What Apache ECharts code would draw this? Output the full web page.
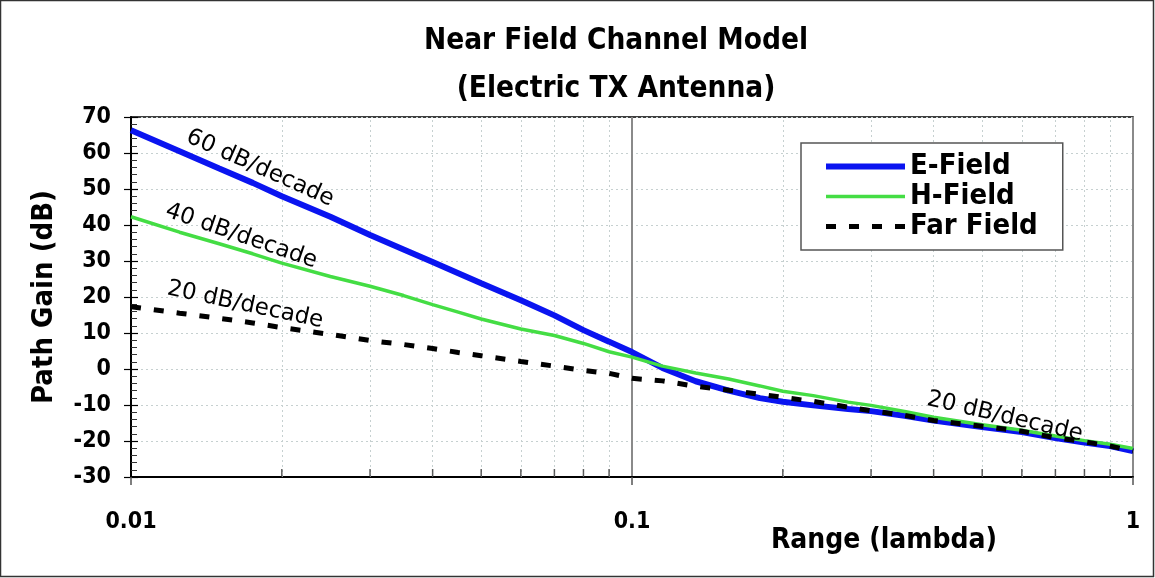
<!DOCTYPE html>
<html>
<head>
<meta charset="utf-8">
<script src="https://cdn.jsdelivr.net/npm/echarts@6/dist/echarts.min.js"></script>
<style>html,body{margin:0;padding:0;background:#fff}#c{width:1155px;height:578px}</style>
</head>
<body>
<div id="c"></div>
<script>
const ranges = [0.01, 0.0125, 0.015, 0.0175, 0.02, 0.025, 0.03, 0.035, 0.04, 0.045, 0.05, 0.06, 0.07, 0.08, 0.09, 0.1, 0.115, 0.134, 0.156, 0.18, 0.2, 0.23, 0.27, 0.3, 0.35, 0.4, 0.5, 0.6, 0.7, 0.8, 0.9, 1.0];
const eField = [66.3, 60.5, 55.7, 51.7, 48.0, 42.3, 37.2, 33.2, 29.7, 26.6, 23.8, 19.1, 14.9, 10.8, 7.6, 4.7, 0.3, -3.4, -6.0, -8.1, -9.1, -10.1, -11.1, -11.7, -13.0, -14.3, -16.1, -17.5, -19.2, -20.4, -21.4, -22.8];
const hField = [42.3, 38.0, 34.8, 32.0, 29.4, 25.7, 23.0, 20.4, 17.9, 15.8, 13.9, 11.1, 9.3, 7.1, 4.8, 3.3, 0.8, -1.1, -2.8, -4.7, -6.2, -7.4, -9.2, -10.1, -11.8, -13.4, -15.5, -17.0, -18.6, -19.9, -20.9, -22.1];
const farField = [17.3, 15.5, 14.1, 12.8, 11.5, 9.6, 7.9, 6.8, 5.7, 4.6, 3.7, 2.1, 0.8, -0.4, -1.2, -2.6, -3.3, -4.8, -5.9, -7.0, -7.9, -9.0, -10.6, -11.6, -12.9, -14.3, -15.9, -17.3, -19.1, -20.2, -21.4, -22.8];
const seriesNames = ['E-Field', 'H-Field', 'Far Field'];
const xTickLabels = ['0.01', '0.1', '1'];
const minorRanges = [0.02, 0.03, 0.04, 0.05, 0.06, 0.07, 0.08, 0.09, 0.2, 0.3, 0.4, 0.5, 0.6, 0.7, 0.8, 0.9];
const annotationTexts = ['60 dB/decade', '40 dB/decade', '20 dB/decade', '20 dB/decade'];
const annotationAt = [[0.0181, 55.8], [0.0166, 36.9], [0.0169, 17.8], [0.555, -13.3]];

const FONT = '"DejaVu Sans Condensed", "DejaVu Sans", sans-serif';
const FONT2 = '"DejaVu Sans", sans-serif';
const pair = a => ranges.map((r, i) => [r, a[i]]);

const chart = echarts.init(document.getElementById('c'), null, {renderer: 'canvas'});
const yCommon = {type: 'value', min: -30, max: 70, interval: 10, position: 'left'};

const annoRotate = [-24, -19, -12, -13];
function anno(i) {
  return {
    coord: annotationAt[i], value: annotationTexts[i],
    symbol: 'circle', symbolSize: 0,
    label: {show: true, formatter: annotationTexts[i], rotate: annoRotate[i],
      fontFamily: FONT2, fontSize: 23, color: '#000', position: 'inside'}
  };
}
const lineStyles = [
  {color: '#0a14f0', width: 6, type: 'solid'},
  {color: '#44dd44', width: 3.5, type: 'solid'},
  {color: '#000', width: 5, type: [10, 13]}
];

chart.setOption({
  animation: false,
  backgroundColor: '#fff',
  title: [{
    text: 'Near Field Channel Model\n(Electric TX Antenna)',
    left: 616, top: 17, padding: 0, textAlign: 'center',
    textStyle: {fontFamily: FONT, fontWeight: 'bold', fontSize: 29.5, lineHeight: 48, color: '#000'}
  }, {
    text: 'Range (lambda)', left: 884, top: 527, padding: 0, textAlign: 'center',
    textStyle: {fontFamily: FONT, fontWeight: 'bold', fontSize: 28, color: '#000'}
  }],
  graphic: [{type: 'rect', shape: {x: 0.5, y: 0.5, width: 1153, height: 576}, style: {fill: 'none', stroke: '#333', lineWidth: 1.5}, silent: true, z: 100}],
  legend: {
    data: seriesNames.map((n, i) => ({name: n, lineStyle: lineStyles[i], itemStyle: {opacity: 0}})),
    orient: 'vertical', left: 801, top: 143,
    padding: [9, 25, 9, 22], itemGap: 1, itemWidth: 79, itemHeight: 14,
    itemStyle: {opacity: 0},
    backgroundColor: '#fff', borderColor: '#555', borderWidth: 1.5,
    textStyle: {fontFamily: FONT, fontWeight: 'bold', fontSize: 29, color: '#000', lineHeight: 29}
  },
  grid: {left: 131, right: 22, top: 117, bottom: 101, show: true, borderColor: '#000', borderWidth: 1.5, backgroundColor: 'transparent'},
  xAxis: {
    type: 'log', logBase: 10, min: 0.01, max: 1,
    axisLine: {onZero: false, lineStyle: {color: '#000', width: 2}},
    axisTick: {show: true, inside: false, length: 8, lineStyle: {color: '#555', width: 1.5}},
    axisLabel: {margin: 34, fontFamily: FONT, fontWeight: 'bold', fontSize: 23, color: '#000',
      formatter: v => { const s = String(+v.toPrecision(3)); return xTickLabels.indexOf(s) >= 0 ? s : ''; }},
    splitLine: {show: true, lineStyle: {color: '#8a8a8a', width: 2}},
    minorTick: {show: false}
  },
  yAxis: [Object.assign({}, yCommon, {
    name: 'Path Gain (dB)', nameLocation: 'middle', nameGap: 72, nameRotate: 90,
    nameTextStyle: {fontFamily: FONT, fontWeight: 'bold', fontSize: 29, color: '#000'},
    axisLine: {show: true, onZero: false, lineStyle: {color: '#000', width: 2}},
    axisTick: {show: true, inside: true, length: 7, lineStyle: {color: '#000', width: 1.2}},
    minorTick: {show: true, splitNumber: 5, length: 6, lineStyle: {color: '#333', width: 1}},
    axisLabel: {margin: 20, fontFamily: FONT, fontWeight: 'bold', fontSize: 23, color: '#000'},
    splitLine: {show: true, lineStyle: {color: '#c6d0d0', width: 1, type: [2, 3]}}
  }), Object.assign({}, yCommon, {
    axisLine: {show: false}, axisLabel: {show: false}, splitLine: {show: false},
    axisTick: {show: true, inside: false, length: 7, lineStyle: {color: '#000', width: 1.2}}
  })],
  series: [{
    name: 'minor', type: 'scatter', silent: true, z: 1,
    data: minorRanges.map(r => [r, -30]),
    symbol: 'rect', symbolSize: [1.5, 8], symbolOffset: [0, -4],
    itemStyle: {color: '#333'},
    markLine: {silent: true, symbol: 'none', label: {show: false}, z: 1,
      lineStyle: {color: '#c6d0d0', width: 1, type: [2, 3]},
      data: minorRanges.map(r => ({xAxis: r}))}
  }, {
    name: seriesNames[0], type: 'line', data: pair(eField), symbol: 'none',
    lineStyle: lineStyles[0], itemStyle: {color: lineStyles[0].color}, z: 3,
    markPoint: {data: [anno(0)]}
  }, {
    name: seriesNames[1], type: 'line', data: pair(hField), symbol: 'none',
    lineStyle: lineStyles[1], itemStyle: {color: lineStyles[1].color}, z: 4,
    markPoint: {data: [anno(1)]}
  }, {
    name: seriesNames[2], type: 'line', data: pair(farField), symbol: 'none',
    lineStyle: lineStyles[2], itemStyle: {color: lineStyles[2].color}, z: 5,
    markPoint: {data: [anno(2), anno(3)]}
  }]
});
</script>
</body>
</html>
